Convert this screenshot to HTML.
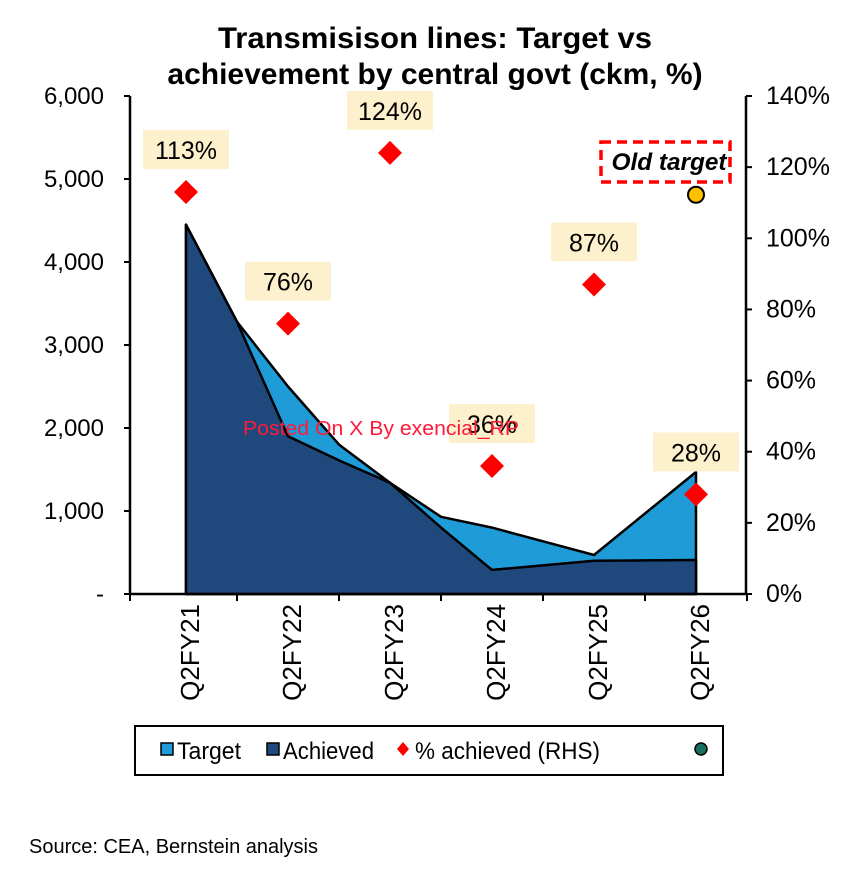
<!DOCTYPE html>
<html><head><meta charset="utf-8"><style>
body{margin:0;background:#fff;}
svg text{font-family:"Liberation Sans",Arial,sans-serif;}
</style></head><body>
<svg id="chart" width="861" height="870" xmlns="http://www.w3.org/2000/svg">
<text x="435" y="48" text-anchor="middle" font-size="30" font-weight="bold" textLength="434" lengthAdjust="spacingAndGlyphs">Transmisison lines: Target vs</text>
<text x="435" y="84" text-anchor="middle" font-size="30" font-weight="bold">achievement by central govt (ckm, %)</text>
<g id="plot"></g>
<text x="243" y="435" font-size="20" fill="#ff1a3a" textLength="276" lengthAdjust="spacingAndGlyphs">Posted On X By exencial_RP</text>
<g>
<rect x="601" y="142" width="129" height="40" fill="#fff" stroke="#f00" stroke-width="3.5" stroke-dasharray="10,6"/>
<text x="669" y="170" text-anchor="middle" font-size="24" font-weight="bold" font-style="italic" textLength="115" lengthAdjust="spacingAndGlyphs">Old target</text>
</g>
<g>
<rect x="135" y="726" width="588" height="49" fill="#fff" stroke="#000" stroke-width="2"/>
<rect x="161" y="743" width="12" height="12" fill="#1f9bd7" stroke="#000" stroke-width="1.5"/>
<text x="177" y="759" font-size="24" textLength="64" lengthAdjust="spacingAndGlyphs">Target</text>
<rect x="267" y="743" width="12" height="12" fill="#1f497d" stroke="#000" stroke-width="1.5"/>
<text x="283" y="759" font-size="24" textLength="91" lengthAdjust="spacingAndGlyphs">Achieved</text>
<polygon points="403,742 409,749 403,756 397,749" fill="#f00"/>
<text x="415" y="759" font-size="24" textLength="185" lengthAdjust="spacingAndGlyphs">% achieved (RHS)</text>
<circle cx="701" cy="749" r="6" fill="#17705f" stroke="#000" stroke-width="1.5"/>
</g>
<text x="29" y="853" font-size="20" textLength="289" lengthAdjust="spacingAndGlyphs">Source: CEA, Bernstein analysis</text>
</svg>
<script>
const categories=["Q2FY21","Q2FY22","Q2FY23","Q2FY24","Q2FY25","Q2FY26"];
const target=[4450,3280,2500,1800,1340,930,800,635,470,970,1470];
const achieved=[4450,3280,1900,1610,1340,800,290,345,400,405,410];
const pctAchieved=[113,76,124,36,87,28];
const oldTarget=4810;
const leftTicks=["-","1,000","2,000","3,000","4,000","5,000","6,000"];
const rightTicks=["0%","20%","40%","60%","80%","100%","120%","140%"];
const NS="http://www.w3.org/2000/svg";
const g=document.getElementById('plot');
const x0=130,x1=746,y0=594,yT=96;
const xc=i=>186+i*102;
const yL=v=>y0-(v/6000)*(y0-yT);
const yR=v=>y0-(v/140)*(y0-yT);
function mk(t,a){const e=document.createElementNS(NS,t);for(const k in a)e.setAttribute(k,a[k]);g.appendChild(e);return e;}
function area(arr){let d=`M${xc(0)},${y0}`;arr.forEach((v,j)=>{d+=` L${xc(j/2)},${yL(v)}`;});d+=` L${xc((arr.length-1)/2)},${y0} Z`;return d;}
let e=mk('path',{d:area(target),fill:'#1f9bd7',stroke:'#000','stroke-width':2.5,'stroke-linejoin':'round'});


e=mk('path',{d:area(achieved),fill:'#1f497d',stroke:'#000','stroke-width':2.5,'stroke-linejoin':'round'});


e=mk('line',{x1:x0,y1:yT,x2:x0,y2:y0,stroke:'#000','stroke-width':2.5});


e=mk('line',{x1:x1,y1:yT,x2:x1,y2:y0,stroke:'#000','stroke-width':2.5});


e=mk('line',{x1:x0,y1:y0,x2:x1,y2:y0,stroke:'#000','stroke-width':2.5});


leftTicks.forEach((t,i)=>{const y=yL(i*1000);
mk('line',{x1:x0-6,y1:y,x2:x0,y2:y,stroke:'#000','stroke-width':2});
const tx=mk('text',{x:104,y:y+8,'text-anchor':'end','font-size':24});tx.textContent=t;

});
rightTicks.forEach((t,i)=>{const y=yR(i*20);
mk('line',{x1:x1,y1:y,x2:x1+6,y2:y,stroke:'#000','stroke-width':2});
const tx=mk('text',{x:766,y:y+8,'font-size':25});tx.textContent=t;

});
categories.forEach((c,i)=>{const bx=xc(i)+51;
mk('line',{x1:bx,y1:y0,x2:bx,y2:y0+7,stroke:'#000','stroke-width':2});
const tx=mk('text',{x:0,y:0,'text-anchor':'end','font-size':26,transform:`translate(${xc(i)+13},604) rotate(-90)`});tx.textContent=c;

});
mk('line',{x1:x0,y1:y0,x2:x0,y2:y0+7,stroke:'#000','stroke-width':2});
pctAchieved.forEach((p,i)=>{const cx=xc(i),cy=yR(p);
const d=mk('polygon',{points:`${cx},${cy-12} ${cx+12},${cy} ${cx},${cy+12} ${cx-12},${cy}`,fill:'#f00'});


const r=mk('rect',{x:cx-43,y:cy-62,width:86,height:39,fill:'#fdf0cc'});


const tx=mk('text',{x:cx,y:cy-33,'text-anchor':'middle','font-size':25});tx.textContent=p+'%';

});
e=mk('circle',{cx:xc(5),cy:yL(oldTarget),r:8,fill:'#ffc000',stroke:'#000','stroke-width':2});


</script>
</body></html>
